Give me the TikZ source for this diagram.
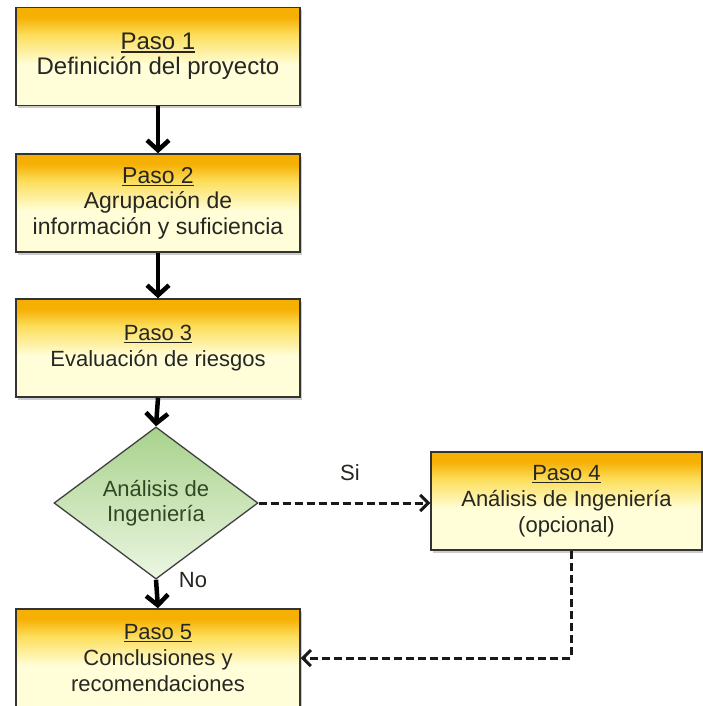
\documentclass[tikz,border=0pt]{standalone}
\usepackage{fontspec}
\setmainfont{Liberation Sans}
\usetikzlibrary{arrows.meta,shapes.geometric,shadows}
\definecolor{orng}{RGB}{246,176,4}
\definecolor{yel}{RGB}{252,222,92}
\definecolor{pale}{RGB}{255,254,216}
\definecolor{gtop}{RGB}{168,210,140}
\definecolor{gbot}{RGB}{236,246,226}
\definecolor{gtext}{RGB}{48,72,36}
\definecolor{txt}{RGB}{38,38,34}
\pgfdeclareverticalshading{pasoshade}{100bp}{color(0bp)=(pale); color(25bp)=(pale); color(46bp)=(pale); color(61bp)=(yel); color(70bp)=(orng); color(100bp)=(orng)}
\newcommand{\pasoul}[1]{\setbox0\hbox{#1}\rlap{\rule[-2.8pt]{\wd0}{1.4pt}}\box0}
\tikzset{
  pasobox/.style={draw=black!80, line width=1.5pt, shade, shading=pasoshade,
    minimum width=284pt, minimum height=98pt, align=center, text=txt, inner sep=0pt,
    drop shadow={shadow xshift=2pt, shadow yshift=-3pt, opacity=0.4},
    font=\fontsize{22}{26}\selectfont},
  decision/.style={shape=diamond, draw=black!75, line width=1.3pt, top color=gtop, bottom color=gbot,
    minimum width=204pt, minimum height=120pt, inner sep=0pt, align=center, text=gtext,
    font=\fontsize{22}{25}\selectfont},
  mainarrow/.style={draw=black, line width=4.5pt, -{Straight Barb[length=10pt,width=22pt,line width=4.5pt]}},
  dasharrow/.style={draw=black!90, line width=3pt, dash pattern=on 8pt off 4pt,
    -{Straight Barb[length=8pt,width=16pt,line width=3pt]}},
  lbl/.style={text=txt, font=\fontsize{22}{25}\selectfont, inner sep=0pt}
}
\begin{document}
\begin{tikzpicture}[x=1pt, y=-1pt]
\fill[white] (0,0) rectangle (703,706);
\useasboundingbox (0,0) rectangle (703,706);
\node[pasobox, font=\fontsize{24}{25}\selectfont] (p1) at (158,56.5) {\pasoul{Paso 1}\\Definición del proyecto};
\node[pasobox, font=\fontsize{23}{25.5}\selectfont] (p2) at (158,203) {\pasoul{Paso 2}\\Agrupación de\\información y suficiencia};
\node[pasobox] (p3) at (158,348) {\pasoul{Paso 3}\\Evaluación de riesgos};
\node[decision] (d) at (156,503) {Análisis de\\Ingeniería};
\node[pasobox, minimum width=271pt] (p4) at (566.5,501) {\pasoul{Paso 4}\\Análisis de Ingeniería\\(opcional)};
\node[pasobox] (p5) at (158,658) {\pasoul{Paso 5}\\Conclusiones y\\recomendaciones};
\node[lbl] (si) at (350,473) {Si};
\node[lbl] (no) at (193,580) {No};
\coordinate (turn) at (571,658);
\draw[mainarrow] (p1.south) -- (p2.north);
\draw[mainarrow] (p2.south) -- (p3.north);
\draw[mainarrow] (p3.south) -- (d.north);
\draw[mainarrow] (d.south) -- (p5.north);
\draw[dasharrow] (d.east) -- (d.east -| p4.west);
\draw[dasharrow] (p4.south -| turn) |- (p5.east);
\end{tikzpicture}
\end{document}
